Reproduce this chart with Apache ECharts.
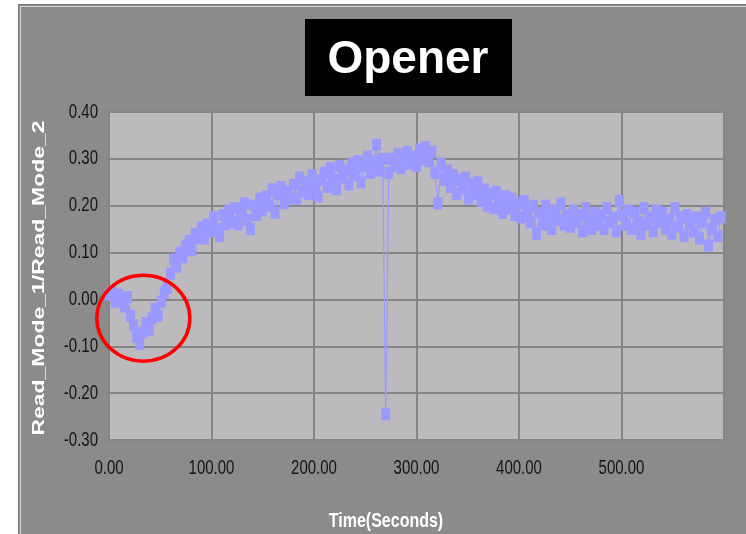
<!DOCTYPE html>
<html>
<head>
<meta charset="utf-8">
<script src="https://cdn.jsdelivr.net/npm/echarts@6/dist/echarts.min.js"></script>
<style>
  html, body { margin: 0; padding: 0; background: #ffffff; }
  #chart { width: 746px; height: 534px; }
</style>
</head>
<body>
<div id="chart"></div>
<script>
// Sample times (seconds)
const times = [
  0, 3, 6, 9, 12, 15, 18, 21, 24, 27,
  30, 33, 36, 39, 42, 45, 48, 51, 54, 57,
  60, 63, 66, 69, 72, 75, 78, 81, 84, 87,
  90, 93, 96, 99, 102, 105, 108, 111, 114, 117,
  120, 123, 126, 129, 132, 135, 138, 141, 144, 147,
  150, 153, 156, 159, 162, 165, 168, 171, 174, 177,
  180, 183, 186, 189, 192, 195, 198, 201, 204, 207,
  210, 213, 216, 219, 222, 225, 228, 231, 234, 237,
  240, 243, 246, 249, 252, 255, 258, 261, 264, 267,
  270, 273, 276, 279, 282, 285, 288, 291, 294, 297,
  300, 303, 306, 309, 312, 315, 318, 321, 324, 327,
  330, 333, 336, 339, 342, 345, 348, 351, 354, 357,
  360, 363, 366, 369, 372, 375, 378, 381, 384, 387,
  390, 393, 396, 399, 402, 405, 408, 411, 414, 417,
  420, 423, 426, 429, 432, 435, 438, 441, 444, 447,
  450, 453, 456, 459, 462, 465, 468, 471, 474, 477,
  480, 483, 486, 489, 492, 495, 498, 501, 504, 507,
  510, 513, 516, 519, 522, 525, 528, 531, 534, 537,
  540, 543, 546, 549, 552, 555, 558, 561, 564, 567,
  570, 573, 576, 579, 582, 585, 588, 591, 594, 597
];

// Read_Mode_1 / Read_Mode_2 ratio at each sample time
const ratio = [
  0.010, 0.015, -0.005, 0.010, 0.000, -0.015, 0.005, -0.035, -0.055, -0.080,
  -0.095, -0.070, -0.050, -0.065, -0.040, -0.020, -0.035, -0.005, 0.015, 0.025,
  0.055, 0.085, 0.070, 0.100, 0.090, 0.115, 0.125, 0.105, 0.140, 0.130,
  0.155, 0.130, 0.160, 0.145, 0.175, 0.150, 0.135, 0.180, 0.160, 0.190,
  0.165, 0.195, 0.160, 0.185, 0.205, 0.170, 0.150, 0.200, 0.180, 0.215,
  0.190, 0.220, 0.200, 0.235, 0.185, 0.225, 0.240, 0.205, 0.230, 0.215,
  0.245, 0.215, 0.260, 0.230, 0.250, 0.225, 0.265, 0.240, 0.220, 0.255,
  0.270, 0.240, 0.280, 0.255, 0.235, 0.285, 0.260, 0.275, 0.245, 0.290,
  0.265, 0.295, 0.250, 0.285, 0.305, 0.270, 0.295, 0.330, 0.275, 0.300,
  -0.245, 0.270, 0.300, 0.285, 0.310, 0.280, 0.300, 0.315, 0.290, 0.305,
  0.285, 0.320, 0.300, 0.325, 0.295, 0.315, 0.270, 0.205, 0.290, 0.255,
  0.275, 0.240, 0.265, 0.225, 0.255, 0.235, 0.260, 0.215, 0.245, 0.225,
  0.250, 0.210, 0.235, 0.200, 0.225, 0.195, 0.230, 0.210, 0.185, 0.220,
  0.195, 0.215, 0.180, 0.205, 0.175, 0.210, 0.190, 0.165, 0.200, 0.140,
  0.185, 0.160, 0.200, 0.175, 0.150, 0.190, 0.170, 0.205, 0.160, 0.180,
  0.155, 0.190, 0.165, 0.180, 0.145, 0.195, 0.170, 0.150, 0.185, 0.160,
  0.180, 0.150, 0.195, 0.165, 0.175, 0.145, 0.210, 0.180, 0.160, 0.190,
  0.150, 0.185, 0.165, 0.140, 0.195, 0.160, 0.175, 0.145, 0.190, 0.165,
  0.185, 0.150, 0.170, 0.140, 0.195, 0.155, 0.175, 0.135, 0.180, 0.160,
  0.145, 0.175, 0.130, 0.165, 0.185, 0.115, 0.150, 0.170, 0.135, 0.175
];

// Axis scale settings and tick labels
const xTicks = { min: 0, max: 600, interval: 100 };
const yTicks = { min: -0.3, max: 0.4, interval: 0.1 };
const xTickValues = [0, 100, 200, 300, 400, 500];
const xTickLabels = ['0.00', '100.00', '200.00', '300.00', '400.00', '500.00'];
const yTickValues = [0.4, 0.3, 0.2, 0.1, 0, -0.1, -0.2, -0.3];
const yTickLabels = ['0.40', '0.30', '0.20', '0.10', '0.00', '-0.10', '-0.20', '-0.30'];

// Region highlighted with a ring (time, ratio)
const highlightCenter = [33.5, -0.040];

const chart = echarts.init(document.getElementById('chart'), null, { renderer: 'canvas' });

const gridColor = '#858585';
const tickFont = '15px "Liberation Sans", Arial, sans-serif';

chart.setOption({
  backgroundColor: '#ffffff',
  animation: false,
  grid: { left: 109, right: 22, top: 112, bottom: 94, show: true, backgroundColor: '#bdbabd', borderWidth: 0 },
  xAxis: {
    type: 'value',
    min: xTicks.min, max: xTicks.max, interval: xTicks.interval,
    axisLine: { show: false },
    axisTick: { show: true, length: 5, lineStyle: { color: gridColor, width: 2 } },
    splitLine: { show: true, lineStyle: { color: gridColor, width: 2 } },
    axisLabel: { show: false }
  },
  yAxis: {
    type: 'value',
    min: yTicks.min, max: yTicks.max, interval: yTicks.interval,
    axisLine: { show: false },
    axisTick: { show: true, length: 5, lineStyle: { color: gridColor, width: 2 } },
    splitLine: { show: true, lineStyle: { color: gridColor, width: 2 } },
    axisLabel: { show: false }
  },
  series: [{
    type: 'line',
    data: times.map((t, i) => [t, ratio[i]]),
    symbol: 'rect',
    symbolSize: [9, 12],
    showSymbol: true,
    clip: false,
    itemStyle: { color: '#9999ff', borderWidth: 0 },
    lineStyle: { color: '#9999ff', width: 1.2 },
    z: 3
  }]
});

function drawDecorations() {
  const c = chart.convertToPixel({ gridIndex: 0 }, highlightCenter);
  const labels = [];
  // tick labels, drawn tall and narrow
  xTickValues.forEach((v, i) => {
    const p = chart.convertToPixel({ gridIndex: 0 }, [v, yTicks.min]);
    labels.push({ type: 'text', z: 11, silent: true, x: p[0], y: p[1] + 28, scaleY: 1.35,
      style: { text: xTickLabels[i], fill: '#151515', font: tickFont, align: 'center', verticalAlign: 'middle' } });
  });
  yTickValues.forEach((v, i) => {
    const p = chart.convertToPixel({ gridIndex: 0 }, [xTicks.min, v]);
    labels.push({ type: 'text', z: 11, silent: true, x: p[0] - 11, y: p[1], scaleY: 1.35,
      style: { text: yTickLabels[i], fill: '#151515', font: tickFont, align: 'right', verticalAlign: 'middle' } });
  });

  chart.setOption({
    graphic: [
      // outer panel with bevelled edge
      { type: 'rect', z: -10, silent: true,
        shape: { x: 18.5, y: 4.5, width: 740, height: 540 },
        style: { fill: '#8b8c89', stroke: '#7a7a7a', lineWidth: 1 } },
      { type: 'rect', z: -9, silent: true,
        shape: { x: 20.5, y: 6.5, width: 740, height: 540 },
        style: { fill: 'none', stroke: '#d8d8d8', lineWidth: 1 } },
      // title box
      { type: 'rect', z: 10, silent: true,
        shape: { x: 305, y: 19, width: 207, height: 77 },
        style: { fill: '#000000' } },
      { type: 'text', z: 11, silent: true, x: 408, y: 60,
        style: { text: 'Opener', fill: '#ffffff', font: 'bold 46px "Liberation Sans", Arial, sans-serif',
                 align: 'center', verticalAlign: 'middle' } },
      // axis titles
      { type: 'text', z: 11, silent: true, x: 39, y: 278, rotation: Math.PI / 2, scaleX: 1.35,
        style: { text: 'Read_Mode_1/Read_Mode_2', fill: '#ffffff', font: 'bold 17px "Liberation Sans", Arial, sans-serif',
                 align: 'center', verticalAlign: 'middle' } },
      { type: 'text', z: 11, silent: true, x: 386, y: 521, scaleY: 1.3,
        style: { text: 'Time(Seconds)', fill: '#ffffff', font: 'bold 16px "Liberation Sans", Arial, sans-serif',
                 align: 'center', verticalAlign: 'middle' } },
      // highlight ring
      { type: 'ellipse', z: 12, silent: true,
        shape: { cx: c[0], cy: c[1], rx: 46.5, ry: 43 },
        style: { fill: 'none', stroke: '#ff0000', lineWidth: 3.5 } }
    ].concat(labels)
  });
}
drawDecorations();
</script>
</body>
</html>
